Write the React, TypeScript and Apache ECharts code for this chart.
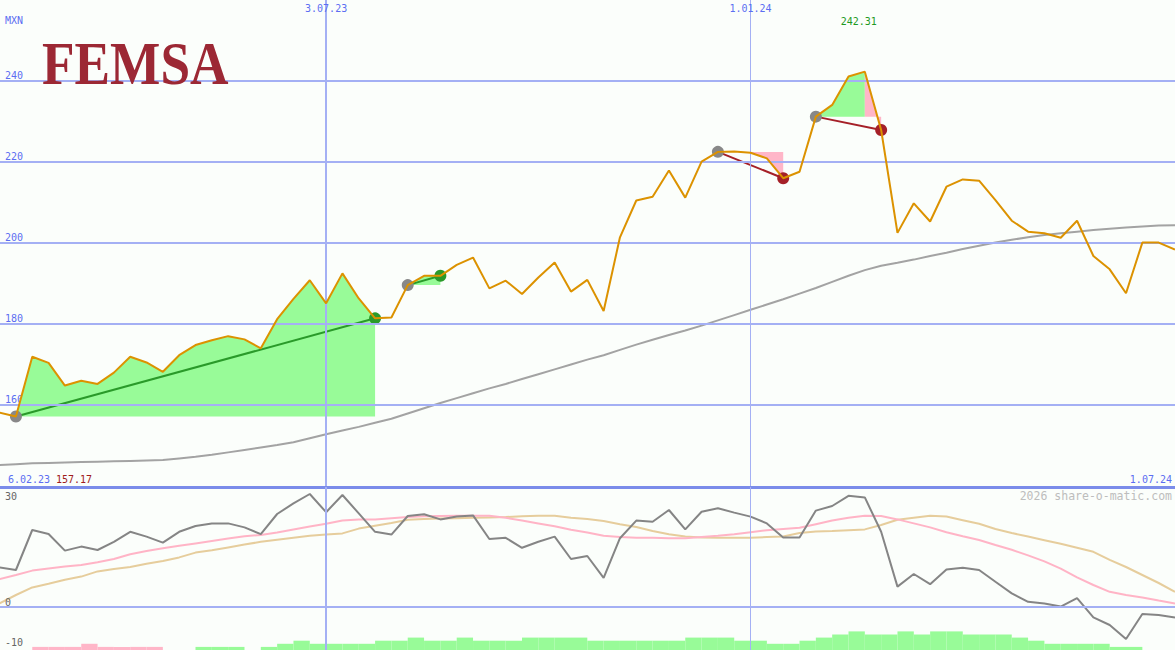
import { useEffect, useRef } from "react";
import * as echarts from "echarts";

// ---------- data ----------
const dates: string[] = [
  "2023-02-06", "2023-02-13", "2023-02-20", "2023-02-27", "2023-03-06", "2023-03-13", "2023-03-20", "2023-03-27",
  "2023-04-03", "2023-04-10", "2023-04-17", "2023-04-24", "2023-05-01", "2023-05-08", "2023-05-15", "2023-05-22",
  "2023-05-29", "2023-06-05", "2023-06-12", "2023-06-19", "2023-06-26", "2023-07-03", "2023-07-10", "2023-07-17",
  "2023-07-24", "2023-07-31", "2023-08-07", "2023-08-14", "2023-08-21", "2023-08-28", "2023-09-04", "2023-09-11",
  "2023-09-18", "2023-09-25", "2023-10-02", "2023-10-09", "2023-10-16", "2023-10-23", "2023-10-30", "2023-11-06",
  "2023-11-13", "2023-11-20", "2023-11-27", "2023-12-04", "2023-12-11", "2023-12-18", "2023-12-25", "2024-01-01",
  "2024-01-08", "2024-01-15", "2024-01-22", "2024-01-29", "2024-02-05", "2024-02-12", "2024-02-19", "2024-02-26",
  "2024-03-04", "2024-03-11", "2024-03-18", "2024-03-25", "2024-04-01", "2024-04-08", "2024-04-15", "2024-04-22",
  "2024-04-29", "2024-05-06", "2024-05-13", "2024-05-20", "2024-05-27", "2024-06-03", "2024-06-10", "2024-06-17",
  "2024-06-24", "2024-07-01",
];

const price: number[] = [
  158.5, 158.1, 157.17, 171.9, 170.4, 164.8, 166.0, 165.2, 168.0, 171.9,
  170.5, 168.2, 172.3, 174.8, 176.0, 177.0, 176.2, 174.0, 181.2, 186.2,
  190.8, 185.1, 192.5, 186.3, 181.4, 181.6, 189.6, 191.9, 191.9, 194.6,
  196.4, 188.8, 190.7, 187.4, 191.5, 195.2, 188.0, 190.9, 183.2, 201.4,
  210.5, 211.4, 217.9, 211.2, 220.1, 222.5, 222.6, 222.3, 220.9, 216.0,
  217.6, 231.2, 234.1, 241.1, 242.31, 227.9, 202.5, 209.8, 205.3, 213.9,
  215.7, 215.4, 210.6, 205.5, 202.8, 202.4, 201.3, 205.5, 196.8, 193.5,
  187.6, 200.1, 200.1, 198.4,
];

const priceMA: number[] = [
  145.0, 145.2, 145.4, 145.6, 145.7, 145.8, 145.9, 146.0, 146.1, 146.2,
  146.3, 146.4, 146.8, 147.2, 147.7, 148.3, 148.9, 149.5, 150.1, 150.8,
  151.8, 152.8, 153.7, 154.6, 155.6, 156.6, 157.9, 159.2, 160.5, 161.7,
  162.9, 164.1, 165.2, 166.4, 167.6, 168.8, 170.0, 171.2, 172.3, 173.6,
  174.9, 176.1, 177.3, 178.4, 179.6, 180.9, 182.2, 183.5, 184.8, 186.1,
  187.5, 188.9, 190.4, 191.9, 193.3, 194.4, 195.1, 195.9, 196.8, 197.6,
  198.5, 199.3, 200.1, 200.8, 201.4, 202.0, 202.4, 202.8, 203.2, 203.5,
  203.8, 204.1, 204.3, 204.4,
];

const oscMain: number[] = [
  10.0, 9.9, 9.25, 19.25, 18.25, 14.1, 15.1, 14.25, 16.3, 18.8,
  17.6, 16.1, 18.8, 20.25, 20.9, 20.9, 19.9, 18.2, 23.25, 25.9,
  28.25, 23.7, 28.0, 23.4, 18.8, 18.1, 22.75, 23.2, 21.9, 22.6,
  22.9, 17.0, 17.3, 14.8, 16.3, 17.6, 12.0, 12.75, 7.3, 17.2,
  21.6, 21.3, 24.25, 19.4, 23.8, 24.7, 23.6, 22.6, 20.9, 17.4,
  17.4, 24.1, 25.25, 27.8, 27.4, 18.8, 5.1, 8.25, 5.7, 9.4,
  9.8, 9.25, 6.3, 3.4, 1.3, 0.9, 0.1, 2.2, -2.6, -4.5,
  -8.0, -1.75, -2.0, -2.6,
];

const oscPink: number[] = [
  6.5, 7.0, 8.0, 9.1, 9.6, 10.1, 10.5, 11.2, 12.0, 13.2,
  14.0, 14.7, 15.3, 15.9, 16.5, 17.1, 17.7, 18.0, 18.6, 19.4,
  20.1, 20.8, 21.6, 21.9, 21.9, 22.2, 22.5, 22.7, 22.75, 22.8,
  22.8, 22.8, 22.3, 21.6, 20.9, 20.2, 19.3, 18.6, 17.8, 17.5,
  17.3, 17.3, 17.2, 17.2, 17.5, 17.8, 18.2, 18.7, 19.2, 19.5,
  19.8, 20.7, 21.6, 22.3, 22.8, 22.75, 21.9, 20.9, 19.9, 18.7,
  17.7, 16.75, 15.5, 14.3, 12.9, 11.4, 9.6, 7.4, 5.5, 3.8,
  3.0, 2.4, 1.6, 0.9,
];

const oscTan: number[] = [
  -0.8, 0.9, 3.0, 4.9, 5.8, 6.8, 7.6, 8.9, 9.5, 10.0,
  10.8, 11.5, 12.4, 13.6, 14.2, 14.9, 15.6, 16.3, 16.8, 17.3,
  17.8, 18.1, 18.4, 19.6, 20.3, 21.0, 21.8, 22.0, 22.1, 22.2,
  22.3, 22.4, 22.5, 22.7, 22.8, 22.8, 22.3, 22.0, 21.5, 20.7,
  20.0, 19.0, 18.2, 17.6, 17.4, 17.3, 17.3, 17.3, 17.5, 17.6,
  18.5, 18.9, 19.0, 19.2, 19.4, 20.5, 21.8, 22.3, 22.8, 22.6,
  21.7, 20.8, 19.5, 18.5, 17.6, 16.7, 15.8, 14.8, 13.8, 11.8,
  10.0, 8.0, 6.0, 3.8,
];

// trend strength histogram (negative = pink, positive = green)
const trendBars: number[] = [
  0, 0, 0, -1, -1, -1, -2, -1, -1, -1,
  -1, 0, 0, 1, 1, 1, 0, 1, 2, 3,
  2, 2, 2, 2, 3, 3, 4, 3, 3, 4,
  3, 3, 3, 4, 4, 4, 4, 3, 3, 3,
  3, 3, 3, 4, 4, 4, 3, 3, 2, 2,
  3, 4, 5, 6, 5, 5, 6, 5, 6, 6,
  5, 5, 5, 4, 3, 2, 2, 2, 2, 1,
  1, 0, 0, 0,
];

const priceTicks: number[] = [160, 180, 200, 220, 240];
const oscLowLabels: number[] = [-10, 0];
const oscTopLabels: number[] = [30];
const oscGridLines: number[] = [0];
const markerDates: string[] = ["2023-07-03", "2024-01-01"];
const markerWidths: number[] = [2, 1];

const tradeEntry: number[] = [2, 26, 45, 51];
const tradeExit: number[] = [24, 28, 49, 55];
const fillFrom: number[] = [2, 26, 45, 51, 54];
const fillTo: number[] = [24, 28, 49, 54, 55];
const fillTrade: number[] = [0, 1, 2, 3, 3];
const fillLoss: boolean[] = [false, false, true, false, true];

// ---------- styling ----------
const BG = "#fbfefb";
const GRID_BLUE = "#a4b0f4";
const SEP_BLUE = "#7b8cea";
const LABEL_BLUE = "#5c6ef2";
const MONO = '"DejaVu Sans Mono", monospace';
const GREEN_FILL = "#98fb98";
const PINK_FILL = "#ffb6c8";
const WIN = "#2a9a2a";
const LOSS = "#a52028";

const T = (s: string) => echarts.time.parse(s).getTime();
const X_MIN = T("2023-02-13 04:00:00");
const X_MAX = T("2024-07-01 00:00:00");

const pad = (n: number) => (n < 10 ? "0" + n : "" + n);
const fmtDate = (v: number) => {
  const d = new Date(v);
  return `${d.getDate()}.${pad(d.getMonth() + 1)}.${pad(d.getFullYear() % 100)}`;
};

export default function App() {
  const ref = useRef<HTMLDivElement>(null);

  useEffect(() => {
    if (!ref.current) return;
    const chart = echarts.init(ref.current, null, { renderer: "svg" });

    const times = dates.map(T);
    const priceData = times.map((t, i) => [t, price[i]]);
    const maData = times.map((t, i) => [t, priceMA[i]]);
    const markerTimes = markerDates.map(T);

    const vLines = markerTimes.map((t, i) => ({
      xAxis: t,
      lineStyle: { color: GRID_BLUE, width: markerWidths[i], type: "solid" },
    }));

    const fillSeries = fillFrom.map((f, j) => ({
      type: "line",
      xAxisIndex: 0,
      yAxisIndex: 0,
      z: 3,
      silent: true,
      symbol: "none",
      showSymbol: false,
      data: priceData.slice(f, fillTo[j] + 1),
      lineStyle: { width: 0, opacity: 0 },
      areaStyle: {
        color: fillLoss[j] ? PINK_FILL : GREEN_FILL,
        opacity: 1,
        origin: price[tradeEntry[fillTrade[j]]],
      },
    }));

    const tradeSeries = tradeEntry.map((e, j) => {
      const x = tradeExit[j];
      const win = price[x] >= price[e];
      const col = win ? WIN : LOSS;
      return {
        type: "line",
        xAxisIndex: 0,
        yAxisIndex: 0,
        z: 4,
        silent: true,
        symbol: "circle",
        symbolSize: 12,
        showSymbol: true,
        data: [
          { value: priceData[e], itemStyle: { color: "#888888", borderWidth: 0 } },
          { value: priceData[x], itemStyle: { color: col, borderWidth: 0 } },
        ],
        lineStyle: { color: col, width: 2 },
        itemStyle: { color: col },
      };
    });

    const barData = trendBars.map((v, i) => [times[i], i + 1 < times.length ? times[i + 1] : times[i], v]);

    const option: any = {
      animation: false,
      backgroundColor: BG,
      grid: [
        { left: 0, right: 0, top: 0, height: 486 },
        { left: 0, right: 0, top: 487, height: 163 },
      ],
      xAxis: [
        {
          type: "time",
          gridIndex: 0,
          min: X_MIN,
          max: X_MAX,
          position: "top",
          axisLine: { show: false },
          axisTick: { show: false },
          splitLine: { show: false },
          axisLabel: { show: false },
        },
        {
          type: "time",
          gridIndex: 1,
          min: X_MIN,
          max: X_MAX,
          position: "top",
          axisLine: { show: true, onZero: false, lineStyle: { color: SEP_BLUE, width: 3 } },
          axisTick: { show: false },
          splitLine: { show: false },
          axisLabel: { show: false },
        },
      ],
      yAxis: [
        {
          type: "value",
          gridIndex: 0,
          min: 140,
          max: 260,
          interval: 20,
          axisLine: { show: false },
          axisTick: { show: false },
          splitLine: { show: false },
          axisLabel: {
            inside: true,
            margin: 5,
            showMinLabel: false,
            showMaxLabel: false,
            verticalAlign: "bottom",
            padding: [0, 0, 1, 0],
            color: LABEL_BLUE,
            fontFamily: MONO,
            fontSize: 10,
          },
        },
        {
          type: "value",
          gridIndex: 1,
          min: -10.75,
          max: 30,
          axisLine: { show: false },
          axisTick: { show: false },
          splitLine: { show: false },
          axisLabel: { show: false },
        },
        {
          type: "value",
          gridIndex: 1,
          min: 0,
          max: 52.58,
          show: false,
        },
      ],
      series: [
        {
          name: "ma",
          type: "line",
          xAxisIndex: 0,
          yAxisIndex: 0,
          z: 2,
          silent: true,
          symbol: "none",
          data: maData,
          lineStyle: { color: "#a3a3a3", width: 2 },
          markLine: {
            silent: true,
            symbol: ["none", "none"],
            label: { show: false },
            lineStyle: { color: GRID_BLUE, width: 2, type: "solid" },
            data: [...priceTicks.map((v) => ({ yAxis: v })), ...vLines],
          },
        },
        ...fillSeries,
        ...tradeSeries,
        {
          name: "price",
          type: "line",
          xAxisIndex: 0,
          yAxisIndex: 0,
          z: 5,
          silent: true,
          symbol: "none",
          data: priceData,
          lineStyle: { color: "#dc9200", width: 2 },
        },
        {
          name: "tan",
          type: "line",
          xAxisIndex: 1,
          yAxisIndex: 1,
          z: 1,
          silent: true,
          symbol: "none",
          data: times.map((t, i) => [t, oscTan[i]]),
          lineStyle: { color: "#e6cd9c", width: 2 },
          markLine: {
            silent: true,
            symbol: ["none", "none"],
            label: { show: false },
            lineStyle: { color: GRID_BLUE, width: 2, type: "solid" },
            data: [...oscGridLines.map((v) => ({ yAxis: v })), ...vLines],
          },
        },
        {
          name: "pink",
          type: "line",
          xAxisIndex: 1,
          yAxisIndex: 1,
          z: 2,
          silent: true,
          symbol: "none",
          data: times.map((t, i) => [t, oscPink[i]]),
          lineStyle: { color: "#ffb4c6", width: 2 },
        },
        {
          name: "bars",
          type: "custom",
          xAxisIndex: 1,
          yAxisIndex: 2,
          z: 3,
          silent: true,
          data: barData,
          encode: { x: [0, 1], y: 2 },
          renderItem: (_p: any, api: any) => {
            const v = api.value(2) as number;
            if (!v) return null;
            const p0 = api.coord([api.value(0), 0]);
            const p1 = api.coord([api.value(1), Math.abs(v)]);
            return {
              type: "rect",
              shape: { x: p0[0], y: p1[1], width: p1[0] - p0[0], height: p0[1] - p1[1] },
              style: { fill: v < 0 ? PINK_FILL : GREEN_FILL },
            };
          },
        },
        {
          name: "osc",
          type: "line",
          xAxisIndex: 1,
          yAxisIndex: 1,
          z: 4,
          silent: true,
          symbol: "none",
          data: times.map((t, i) => [t, oscMain[i]]),
          lineStyle: { color: "#858585", width: 2 },
        },
      ],
    };

    chart.setOption(option);

    let maxIdx = 0;
    let minIdx = 0;
    price.forEach((p, i) => {
      if (p > price[maxIdx]) maxIdx = i;
      if (p < price[minIdx]) minIdx = i;
    });
    const px = (t: number) => chart.convertToPixel({ xAxisIndex: 0 }, t) as number;
    const py = (v: number) => chart.convertToPixel({ yAxisIndex: 1 }, v) as number;

    const txt = (x: number, y: number, text: string, fill: string, align = "left", font = `10px ${MONO}`) => ({
      type: "text",
      x,
      y,
      silent: true,
      z: 10,
      style: { text, fill, font, align, verticalAlign: "middle" },
    });

    chart.setOption({
      graphic: [
        {
          type: "text",
          x: 42,
          y: 63,
          scaleX: 0.86,
          silent: true,
          z: 10,
          style: {
            text: "FEMSA",
            font: 'bold 62px "Liberation Serif", serif',
            fill: "#9c2834",
            align: "left",
            verticalAlign: "middle",
          },
        },
        txt(5, 20, "MXN", LABEL_BLUE),
        ...markerTimes.map((t) => txt(px(t), 8, fmtDate(t), LABEL_BLUE, "center")),
        txt(8, 479, fmtDate(times[0]), LABEL_BLUE),
        txt(56, 479, price[minIdx].toFixed(2), "#a01c1c"),
        txt(1172, 479, fmtDate(times[times.length - 1]), LABEL_BLUE, "right"),
        txt(px(times[maxIdx]) - 6, 21, price[maxIdx].toFixed(2), "#1f9a1f", "center"),
        txt(1172, 496, "2026 share-o-matic.com", "#bdbdbd", "right", `11.5px ${MONO}`),
        ...oscLowLabels.map((v) => txt(5, py(v) - 5, String(v), "#666666")),
        ...oscTopLabels.map((v) => txt(5, py(v) + 9, String(v), "#666666")),
      ],
    });

    return () => chart.dispose();
  }, []);

  return (
    <div
      ref={ref}
      style={{ position: "fixed", left: 0, top: 0, width: 1175, height: 650 }}
    />
  );
}
